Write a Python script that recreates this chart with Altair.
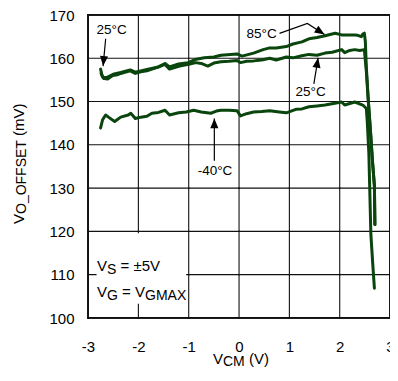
import math
import altair as alt
import pandas as pd

# ---------------- data ----------------
x_ticks = [-3, -2, -1, 0, 1, 2, 3]
y_ticks = [100, 110, 120, 130, 140, 150, 160, 170]

t25_x = [-2.75, -2.72, -2.68, -2.61, -2.51, -2.42, -2.35, -2.25, -2.16, -2.06, -1.95, -1.83,
         -1.70, -1.60, -1.47, -1.38, -1.18, -1.00, -0.86, -0.75, -0.62, -0.50, -0.36, -0.20,
         -0.04, 0.03, 0.15, 0.29, 0.45, 0.61, 0.74, 0.94, 1.07, 1.25, 1.39, 1.55, 1.71, 1.85,
         2.04, 2.10, 2.20, 2.30, 2.40, 2.49, 2.53, 2.57, 2.61, 2.65, 2.69, 2.70]
t25_y = [157.5, 156.0, 155.3, 155.2, 156.0, 156.2, 156.5, 156.8, 157.1, 156.5, 156.9, 157.1,
         157.6, 158.0, 158.6, 157.5, 158.2, 158.6, 159.0, 158.8, 158.2, 158.9, 159.2, 159.3,
         159.5, 159.0, 159.3, 159.4, 159.6, 160.0, 159.6, 160.3, 160.1, 160.6, 160.9, 160.7,
         161.2, 161.4, 162.0, 161.3, 161.8, 162.0, 161.8, 162.0, 157.0, 150.0, 143.5, 136.5,
         130.6, 121.6]

t85_x = [-2.74, -2.70, -2.62, -2.50, -2.35, -2.16, -2.06, -1.83, -1.60, -1.47, -1.38, -1.20,
         -1.01, -0.85, -0.69, -0.50, -0.36, -0.17, -0.04, 0.06, 0.29, 0.48, 0.61, 0.74, 0.94,
         1.07, 1.25, 1.39, 1.55, 1.71, 1.91, 2.04, 2.17, 2.30, 2.36, 2.43, 2.46, 2.49, 2.51,
         2.53, 2.57, 2.61, 2.65, 2.69, 2.70]
t85_y = [156.5, 155.5, 155.6, 156.3, 156.7, 157.3, 156.8, 157.4, 158.0, 158.8, 158.0, 158.7,
         159.0, 159.8, 160.1, 160.3, 160.7, 160.9, 161.0, 160.5, 161.2, 162.0, 162.4, 162.4,
         162.7, 163.3, 163.8, 164.5, 164.8, 165.2, 165.8, 165.4, 165.4, 165.4, 165.3, 165.0,
         165.6, 165.8, 163.9, 158.0, 150.0, 143.5, 136.5, 130.6, 121.6]

tm40_x = [-2.75, -2.71, -2.65, -2.58, -2.47, -2.35, -2.20, -2.15, -2.06, -1.95, -1.83, -1.73,
          -1.60, -1.47, -1.38, -1.20, -1.05, -0.90, -0.75, -0.56, -0.45, -0.36, -0.20, -0.04,
          0.03, 0.15, 0.29, 0.45, 0.61, 0.80, 0.94, 1.13, 1.25, 1.39, 1.55, 1.71, 1.85, 2.04,
          2.10, 2.30, 2.46, 2.53, 2.55, 2.58, 2.62, 2.66, 2.69]
tm40_y = [143.9, 145.8, 146.9, 146.3, 145.4, 146.4, 146.9, 147.3, 146.1, 146.4, 146.6, 147.3,
          147.5, 148.0, 146.9, 147.4, 147.6, 148.0, 147.6, 147.3, 147.8, 148.0, 148.0, 147.9,
          146.7, 147.2, 147.6, 147.7, 147.9, 147.6, 147.4, 148.2, 148.3, 148.8, 149.0, 149.2,
          149.5, 149.9, 149.2, 149.9, 149.2, 148.4, 145.0, 138.0, 119.3, 112.0, 106.9]

# annotation labels (text, x, y in data units)
ann_text = ["25°C", "85°C", "25°C", "-40°C"]
ann_x = [-2.532, 0.448, 1.422, -0.477]
ann_y = [166.6, 165.7, 152.1, 134.0]

# arrows (polyline in data units, last point = tip)
arrows = [
    [(-2.649, 164.5), (-2.700, 158.2)],
    [(0.805, 165.76), (1.358, 168.03), (1.700, 165.5)],
    [(1.487, 154.1), (1.572, 160.1)],
    [(-0.490, 136.3), (-0.490, 146.1)],
]

# ---------------- layout ----------------
W, H = 302, 303
XDOM, YDOM = [-3, 3], [100, 170]
PXX = W / (XDOM[1] - XDOM[0])
PXY = H / (YDOM[1] - YDOM[0])
GREEN = "#0a450d"
FONT = "Liberation Sans"

xs = alt.Scale(domain=XDOM, nice=False, zero=False)
ys = alt.Scale(domain=YDOM, nice=False, zero=False)
AX = alt.Axis(values=x_ticks, title=None, grid=False, domain=False, ticks=False, labelPadding=21,
              labelFontSize=15, labelFont=FONT, labelColor="black", labelFlush=False,
              labelExpr="'' + datum.value")
AY = alt.Axis(values=y_ticks, title=None, grid=False, domain=False, ticks=False, labelPadding=14,
              labelFontSize=15, labelFont=FONT, labelColor="black", labelFlush=False,
              labelExpr="'' + datum.value")


def X(f="x:Q"):
    return alt.X(f, scale=xs, axis=AX)


def Y(f="y:Q"):
    return alt.Y(f, scale=ys, axis=AY)


# grid + frame built from the tick arrays as many short segments (one cell side each)
grow = []
k = 0
for v in x_ticks:
    for a, b in zip(y_ticks[:-1], y_ticks[1:]):
        grow += [{"g": k, "x": v + 0.001, "y": a, "j": 0, "w": v in XDOM},
                 {"g": k, "x": v + 0.001, "y": b, "j": 1, "w": v in XDOM}]
        k += 1
for v in y_ticks:
    for a, b in zip(x_ticks[:-1], x_ticks[1:]):
        grow += [{"g": k, "x": a, "y": v + 0.01, "j": 0, "w": v in YDOM},
                 {"g": k, "x": b, "y": v + 0.01, "j": 1, "w": v in YDOM}]
        k += 1
grid_df = pd.DataFrame(grow)
grid_in = alt.Chart(grid_df[~grid_df["w"]]).mark_line(
    color="#111111", strokeWidth=1.1, strokeCap="square").encode(
    x=X(), y=Y(), detail="g:N", order="j:Q")
grid_edge = alt.Chart(grid_df[grid_df["w"]]).mark_line(
    color="#111111", strokeWidth=1.8, strokeCap="square").encode(
    x=X(), y=Y(), detail="g:N", order="j:Q")

rows = []
for name, xv, yv in [("85°C", t85_x, t85_y), ("25°C", t25_x, t25_y), ("-40°C", tm40_x, tm40_y)]:
    for i, (a, b) in enumerate(zip(xv, yv)):
        rows.append({"series": name, "x": a, "y": b, "i": i})
df = pd.DataFrame(rows)

lines = alt.Chart(df).mark_line(color=GREEN, strokeWidth=3, strokeJoin="round", strokeCap="round").encode(
    x=X(), y=Y(), detail="series:N", order="i:Q")

box_df = pd.DataFrame({"x": [-2.83], "x2": [-1.05], "y": [103.3], "y2": [119.6]})
box = alt.Chart(box_df).mark_rect(fill="white", opacity=1).encode(x=X(), x2="x2:Q", y=Y(), y2="y2:Q")

ann_df = pd.DataFrame({"t": ann_text, "x": ann_x, "y": ann_y})
ann = alt.Chart(ann_df).mark_text(font=FONT, fontSize=13.5, color="black", align="center",
                                  baseline="middle").encode(x=X(), y=Y(), text="t:N")

arow, heads = [], []
for k2, pts in enumerate(arrows):
    for j, (a, b) in enumerate(pts):
        arow.append({"a": k2, "j": j, "x": a, "y": b})
    (x0, y0), (x1, y1) = pts[-2], pts[-1]
    dxp, dyp = (x1 - x0) * PXX, -(y1 - y0) * PXY
    ang = math.degrees(math.atan2(dxp, -dyp)) % 360
    heads.append({"x": x1, "y": y1, "ang": ang})
arr_df = pd.DataFrame(arow)
head_df = pd.DataFrame(heads)

arrow_lines = alt.Chart(arr_df).mark_line(color="black", strokeWidth=1.2).encode(
    x=X(), y=Y(), detail="a:N", order="j:Q")
arrow_heads = alt.Chart(head_df).mark_point(
    shape="M0,0L-0.9,2.2L0.9,2.2Z", filled=True, color="black", opacity=1, size=81).encode(
    x=X(), y=Y(), angle=alt.Angle("ang:Q", scale=None))

# ---------- composed texts with subscripts ----------
CW = {"V": .667, "S": .667, "G": .778, "C": .722, "M": .833, "A": .667, "X": .667, "O": .778,
      "_": .556, "F": .611, "E": .667, "T": .611, " ": .278, "(": .333, ")": .333, "m": .833,
      "=": .584, "±": .584, "5": .556}


def tw(s, size):
    return sum(CW.get(c, .6) for c in s) * size


def txt(s, px, py, size, angle=0):
    return alt.Chart(pd.DataFrame({"t": [s]})).mark_text(
        align="left", baseline="alphabetic", font=FONT, fontSize=size, angle=angle,
        color="black").encode(x=alt.value(px), y=alt.value(py), text="t:N")


def rich(parts, px, py, big=15, small=14, sub=3, vertical=False):
    out, off = [], 0.0
    for s, is_sub in parts:
        size = small if is_sub else big
        lead = len(s) - len(s.lstrip(" "))
        off += tw(" " * lead, size)
        s2 = s.lstrip(" ")
        if vertical:
            out.append(txt(s2, px + (sub * 0.5 if is_sub else 0), py - off, size, angle=270))
        else:
            out.append(txt(s2, px + off, py + (sub if is_sub else 0), size))
        off += tw(s2, size)
    return out


texts = []
texts += rich([("V", False), ("O_OFFSET", True), (" (mV)", False)], -64, 209, vertical=True)
texts += rich([("V", False), ("CM", True), (" (V)", False)], 125, 349, sub=2)
texts += rich([("V", False), ("S", True), (" = ±5V", False)], 9, 256)
texts += rich([("V", False), ("G", True), (" = ", False), ("V", False), ("GMAX", True)], 9, 282)

chart = alt.layer(grid_in, grid_edge, lines, box, arrow_lines, arrow_heads, ann, *texts).properties(
    width=W, height=H,
    padding={"left": 80, "top": 7, "right": 0, "bottom": 50},
    autosize="none",
    background="white",
).configure_view(stroke="black", strokeWidth=1.5)

chart.save("out.html", embed_options={"renderer": "svg", "actions": False})
